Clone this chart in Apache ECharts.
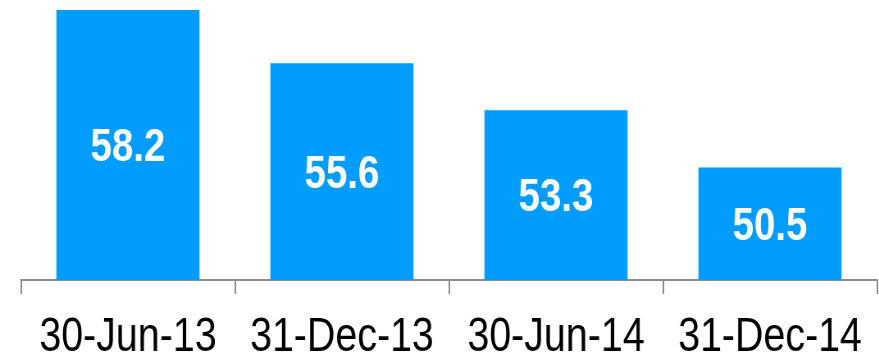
<!DOCTYPE html>
<html>
<head>
<meta charset="utf-8">
<script src="https://cdn.jsdelivr.net/npm/echarts@6/dist/echarts.min.js"></script>
<style>
  html, body { margin: 0; padding: 0; background: #ffffff; overflow: hidden; }
  /* Drawn wider, then squeezed horizontally so the Liberation Sans text reads as a narrow face */
  #chart { width: 1072px; height: 357px; transform: scaleX(0.82); transform-origin: 0 0; }
</style>
</head>
<body>
<div id="chart"></div>
<script>
// Period-end dates and the value reported at each
const periods = ['30-Jun-13', '31-Dec-13', '30-Jun-14', '31-Dec-14'];
const values = [58.2, 55.6, 53.3, 50.5];

// Value axis range (the axis itself is hidden)
const axisMin = 45;
const axisMax = 58.2;

const font = '"Liberation Sans", Arial, sans-serif';

const chart = echarts.init(document.getElementById('chart'), null, { renderer: 'canvas' });

chart.setOption({
  animation: false,
  backgroundColor: '#ffffff',
  grid: {
    left: 25.5, right: 2.5, top: 10, bottom: 77,
    containLabel: false,
    outerBoundsMode: 'none'
  },
  xAxis: {
    type: 'category',
    data: periods,
    axisLine: { show: true, lineStyle: { color: '#8c8c8c', width: 2 } },
    axisTick: { show: true, length: 14, lineStyle: { color: '#8c8c8c', width: 2 } },
    axisLabel: {
      margin: 34,
      color: '#000000',
      fontFamily: font,
      fontSize: 48,
      interval: 0
    }
  },
  yAxis: {
    type: 'value',
    min: axisMin,
    max: axisMax,
    show: false,
    splitLine: { show: false }
  },
  series: [{
    type: 'bar',
    data: values,
    barWidth: 174.5,
    itemStyle: { color: '#009dff' },
    label: {
      show: true,
      position: 'inside',
      offset: [0, 3],
      color: '#ffffff',
      fontFamily: font,
      fontWeight: 'bold',
      fontSize: 47,
      formatter: (p) => p.value.toFixed(1)
    }
  }]
});
</script>
</body>
</html>
